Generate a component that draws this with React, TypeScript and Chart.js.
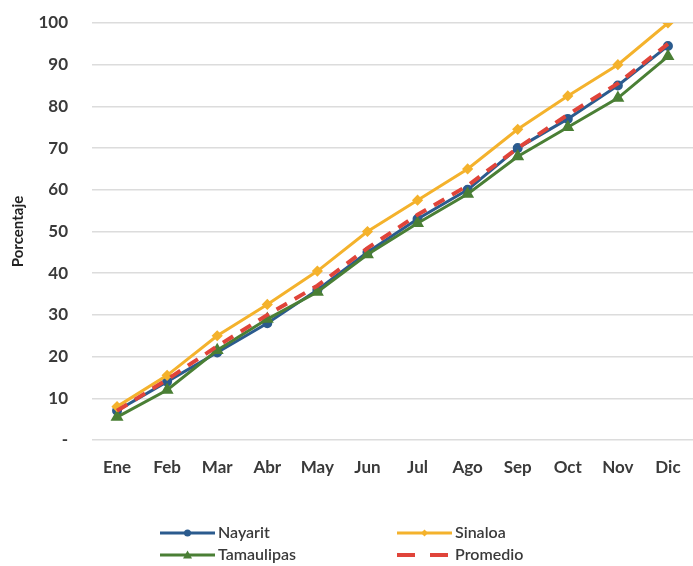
import React, { useEffect, useRef } from "react";
import { Chart, registerables } from "chart.js";

Chart.register(...registerables);

const months = ["Ene", "Feb", "Mar", "Abr", "May", "Jun", "Jul", "Ago", "Sep", "Oct", "Nov", "Dic"];
const nayarit = [7, 14, 21, 28, 36, 45, 53, 60, 70, 77, 85, 94.5];
const sinaloa = [8, 15.5, 25, 32.5, 40.5, 50, 57.5, 65, 74.5, 82.5, 90, 100];
const tamaulipas = [5.5, 12, 21.5, 29, 35.5, 44.5, 52, 59, 68, 75, 82, 92];
const promedio = [7, 14.5, 22.5, 30, 37, 46, 54, 61, 70, 78, 85.5, 95];
const yTicks = [0, 10, 20, 30, 40, 50, 60, 70, 80, 90, 100];

const FONT = "Lato, 'Open Sans', sans-serif";
const TEXT = "#3a3a3a";

const legendPlugin = {
  id: "customLegend",
  afterDraw(chart: any) {
    const ctx = chart.ctx;
    const ds = chart.data.datasets;
    const slots = [
      { i: 0, x: 160, y: 533 },
      { i: 1, x: 397, y: 533 },
      { i: 2, x: 160, y: 555 },
      { i: 3, x: 397, y: 555 },
    ];
    ctx.save();
    slots.forEach((s) => {
      const d = ds[s.i];
      const len = 55;
      ctx.strokeStyle = d.borderColor;
      ctx.lineWidth = d.borderWidth;
      ctx.setLineDash(d.borderDash ? [18, 15] : []);
      ctx.beginPath();
      ctx.moveTo(s.x, s.y);
      ctx.lineTo(s.x + (d.borderDash ? 51 : len), s.y);
      ctx.stroke();
      ctx.setLineDash([]);
      if (d.pointRadius > 0) {
        ctx.fillStyle = d.borderColor;
        const cx = s.x + len / 2;
        const r = d.pointRadius;
        ctx.beginPath();
        if (d.pointStyle === "triangle") {
          ctx.moveTo(cx, s.y - r);
          ctx.lineTo(cx + r, s.y + r * 0.8);
          ctx.lineTo(cx - r, s.y + r * 0.8);
          ctx.closePath();
        } else if (d.pointStyle === "rectRot") {
          ctx.moveTo(cx, s.y - r);
          ctx.lineTo(cx + r, s.y);
          ctx.lineTo(cx, s.y + r);
          ctx.lineTo(cx - r, s.y);
          ctx.closePath();
        } else {
          ctx.arc(cx, s.y, r, 0, Math.PI * 2);
        }
        ctx.fill();
      }
      ctx.fillStyle = TEXT;
      ctx.font = "600 16px " + FONT;
      ctx.textBaseline = "middle";
      ctx.textAlign = "left";
      ctx.fillText(d.label, s.x + len + 3, s.y);
    });
    ctx.restore();
  },
};

export default function App() {
  const ref = useRef<HTMLCanvasElement>(null);
  useEffect(() => {
    document.body.style.margin = "0";
    const chart = new Chart(ref.current as HTMLCanvasElement, {
      type: "line",
      data: {
        labels: months,
        datasets: [
          {
            label: "Nayarit",
            data: nayarit,
            borderColor: "#2b5b8e",
            backgroundColor: "#2b5b8e",
            borderWidth: 3,
            pointRadius: 3.5,
            pointStyle: "circle",
            order: 3,
          },
          {
            label: "Sinaloa",
            data: sinaloa,
            borderColor: "#f4b22c",
            backgroundColor: "#f4b22c",
            borderWidth: 3,
            pointRadius: 3.5,
            pointStyle: "rectRot",
            order: 1,
          },
          {
            label: "Tamaulipas",
            data: tamaulipas,
            borderColor: "#4a7f35",
            backgroundColor: "#4a7f35",
            borderWidth: 3,
            pointRadius: 4.5,
            pointStyle: "triangle",
            order: 2,
          },
          {
            label: "Promedio",
            data: promedio,
            borderColor: "#e0443a",
            backgroundColor: "#e0443a",
            borderWidth: 4,
            borderDash: [12, 9],
            pointRadius: 0,
            order: 0,
          },
        ] as any,
      },
      options: {
        animation: false,
        responsive: false,
        layout: { autoPadding: false, padding: { top: 23, right: 0, bottom: 86, left: 0 } },
        plugins: { legend: { display: false }, tooltip: { enabled: false } },
        elements: { line: { tension: 0 } },
        scales: {
          x: {
            offset: true,
            grid: { display: false, drawTicks: true, tickLength: 17, tickColor: "rgba(0,0,0,0)" },
            border: { display: false },
            ticks: { padding: 0, color: TEXT, font: { family: FONT, size: 17, weight: "bold" } },
            afterFit: (s: any) => {
              s.height = 40;
              s.paddingLeft = 0;
              s.paddingRight = 0;
            },
          },
          y: {
            min: 0,
            max: 100,
            afterBuildTicks: (s: any) => {
              s.ticks = yTicks.map((v) => ({ value: v }));
            },
            grid: { color: "#dcdcdc", lineWidth: 1.5, drawTicks: true, tickLength: 24, tickColor: "rgba(0,0,0,0)" },
            border: { display: false },
            ticks: {
              padding: 0,
              color: TEXT,
              font: { family: FONT, size: 17, weight: "bold" },
              callback: (v: any) => (v === 0 ? "-" : String(v)),
            },
            title: {
              display: true,
              text: "Porcentaje",
              color: "#222",
              font: { family: FONT, size: 15, weight: "bold" },
              padding: { top: 9, bottom: 0 },
            },
            afterFit: (s: any) => {
              s.width = 92;
            },
          },
        },
      },
      plugins: [legendPlugin],
    });
    return () => chart.destroy();
  }, []);
  return (
    <div style={{ width: 693, height: 566, background: "#fff" }}>
      <canvas ref={ref} width={693} height={566} style={{ display: "block" }} />
    </div>
  );
}
